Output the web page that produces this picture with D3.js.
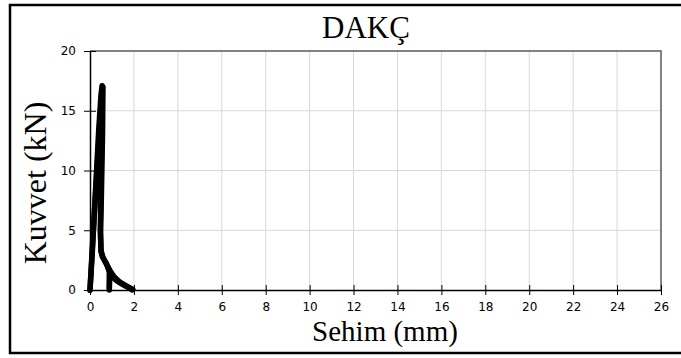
<!DOCTYPE html>
<html><head><meta charset="utf-8">
<script src="https://cdn.jsdelivr.net/npm/d3@7"></script>
<style>html,body{margin:0;padding:0;background:#fff}svg{display:block}</style>
</head><body>
<svg id="c" width="681" height="358"></svg>
<script>
const title = "DAKÇ";
const xTitle = "Sehim (mm)";
const yTitle = "Kuvvet (kN)";
const xTicks = [0,2,4,6,8,10,12,14,16,18,20,22,24,26];
const yTicks = [0,5,10,15,20];
// specimen curves (deflection mm, force kN)
const s1x = [0,0.1,0.2,0.3,0.4,0.5,0.55,0.59,0.57,0.52,0.48,0.5,0.56,0.68,0.8,0.95,1.1,1.3,1.5,1.7,1.95];
const s1y = [0,3,6.5,10,13.5,16.3,17.1,17.0,13,8,4.8,3.4,2.8,2.4,2.0,1.5,1.1,0.75,0.5,0.3,0.05];
const s2x = [0,0.12,0.25,0.35,0.45,0.52,0.56,0.55,0.5,0.47,0.5,0.6,0.75,0.88,0.88];
const s2y = [0,4,8,11,14,16,16.8,14,9,5,3.2,2.7,2.2,1.5,0];
const s3x = [0.88,0.9,1.0,1.2,1.4,1.6,1.8,1.92];
const s3y = [0.2,1.3,1.15,0.8,0.55,0.35,0.15,0.02];
const series = [[s1x,s1y],[s2x,s2y],[s3x,s3y]];

const svg = d3.select("#c");
const L=90,R=661,T=51,B=290;
const x = d3.scaleLinear().domain([0,26]).range([L,R]);
const y = d3.scaleLinear().domain([0,20]).range([B,T]);

svg.append("rect").attr("x",10).attr("y",5).attr("width",675).attr("height",348)
  .attr("fill","#fff").attr("stroke","#000").attr("stroke-width",2.5);

// grid
svg.append("g").selectAll("line").data(xTicks.filter(d=>d>0&&d<26)).join("line")
  .attr("x1",d=>x(d)).attr("x2",d=>x(d)).attr("y1",T).attr("y2",B)
  .attr("stroke","#d9d9d9").attr("stroke-width",1);
svg.append("g").selectAll("line").data(yTicks.filter(d=>d>0&&d<20)).join("line")
  .attr("y1",d=>y(d)).attr("y2",d=>y(d)).attr("x1",L).attr("x2",R)
  .attr("stroke","#d9d9d9").attr("stroke-width",1);
// top/right border
svg.append("path").attr("d",`M${L},${T}H${R}V${B}`).attr("fill","none")
  .attr("stroke","#595959").attr("stroke-width",1.5);

// axes
const fontT = "'DejaVu Sans', sans-serif";
const xa = svg.append("g").attr("transform",`translate(0,${B})`)
  .call(d3.axisBottom(x).tickValues(xTicks).tickSize(5).tickSizeOuter(0).tickPadding(7));
xa.selectAll(".tick line").attr("y1",-5).attr("stroke","#000");
const ya = svg.append("g").attr("transform",`translate(${L},0)`)
  .call(d3.axisLeft(y).tickValues(yTicks).tickSize(6).tickSizeOuter(0).tickPadding(8));
ya.selectAll(".tick line").attr("x1",6).attr("stroke","#000");
[xa,ya].forEach(a=>{a.select(".domain").attr("stroke","#000").attr("stroke-width",1.5);
  a.selectAll("text").attr("font-family",fontT).attr("font-size",12).attr("fill","#000");});

// lines
const line = d3.line().x(d=>x(d[0])).y(d=>y(d[1]));
series.forEach(([xs,ys])=>{
  svg.append("path").datum(xs.map((v,i)=>[v,ys[i]])).attr("d",line)
    .attr("fill","none").attr("stroke","#000").attr("stroke-width",5.5)
    .attr("stroke-linejoin","round").attr("stroke-linecap","round");
});

const serif="'Liberation Serif','Times New Roman',serif";
svg.append("text").attr("x",366).attr("y",38).attr("text-anchor","middle")
  .attr("font-family",serif).attr("font-size",31).text(title);
svg.append("text").attr("x",385).attr("y",341).attr("text-anchor","middle")
  .attr("font-family",serif).attr("font-size",29).text(xTitle);
svg.append("text").attr("transform","translate(46,183) rotate(-90)").attr("text-anchor","middle")
  .attr("font-family",serif).attr("font-size",32).text(yTitle);
</script>
</body></html>
